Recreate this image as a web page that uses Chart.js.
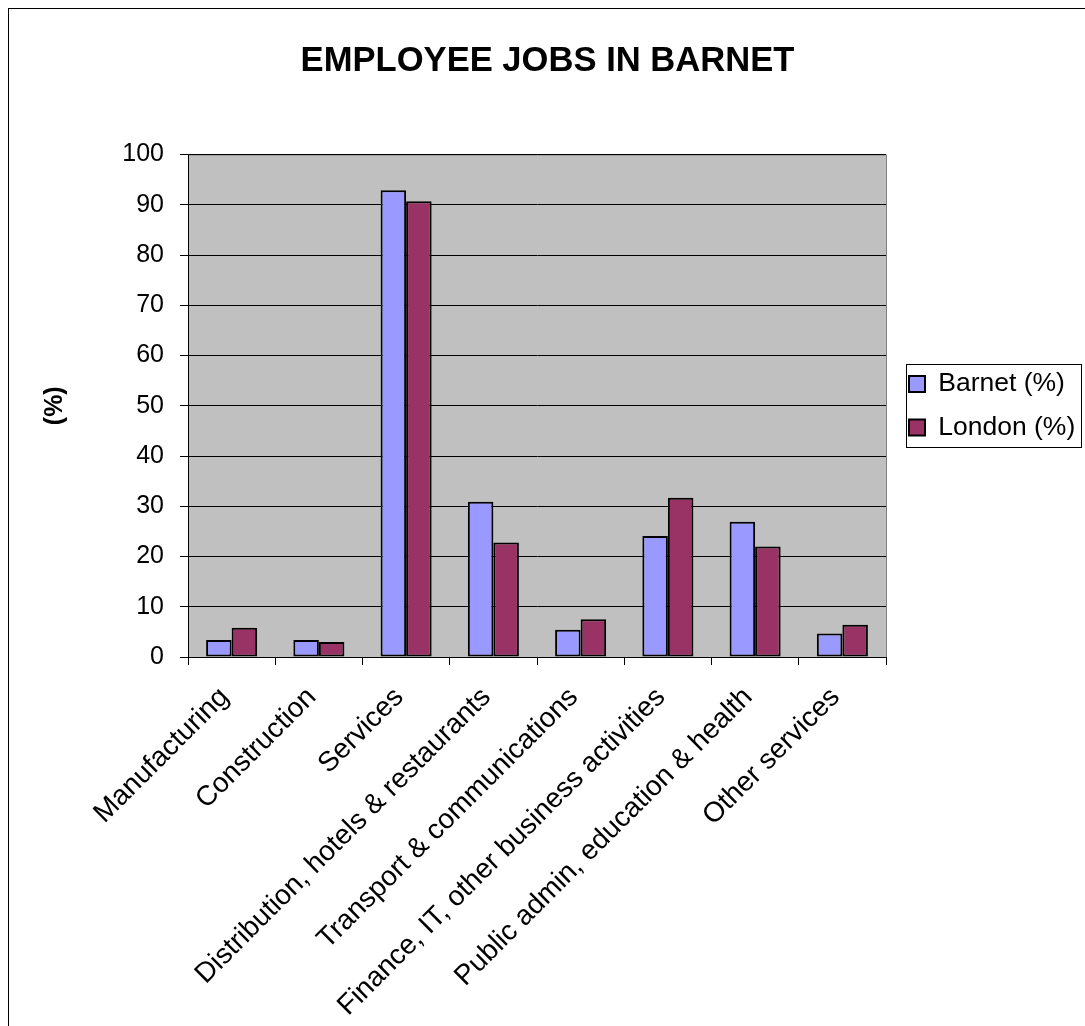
<!DOCTYPE html>
<html>
<head>
<meta charset="utf-8">
<style>
  html, body { margin: 0; padding: 0; background: #fff; }
  #wrap { width: 1085px; height: 1026px; }
</style>
<script src="https://cdn.jsdelivr.net/npm/chart.js@4.4.1/dist/chart.umd.min.js"></script>
</head>
<body>
<div id="wrap"><canvas id="barChart" width="1085" height="1026"></canvas></div>
<script>
const categories = ['Manufacturing', 'Construction', 'Services', 'Distribution, hotels & restaurants',
  'Transport & communications', 'Finance, IT, other business activities',
  'Public admin, education & health', 'Other services'];
const barnet = [3.4, 3.4, 92.9, 30.9, 5.4, 24.1, 26.9, 4.7];
const london = [5.8, 3.0, 90.7, 22.8, 7.5, 31.7, 22.0, 6.4];
const yTicks = [0, 10, 20, 30, 40, 50, 60, 70, 80, 90, 100];

const FONT = 'Liberation Sans, Arial, sans-serif';

// grey plot area, outer frame and legend frame
const frame = {
  id: 'frame',
  beforeLayout(chart) {
    const lg = chart.legend;
    if (lg && !lg._patched) {
      const fit = lg.fit;
      lg.fit = function () { fit.call(this); this.width = 199; };
      lg._patched = true;
    }
  },
  afterLayout(chart) {
    const lg = chart.legend;
    const a = chart.chartArea;
    lg.left += 6; lg.right += 6;
    lg.top = a.top; lg.bottom = a.bottom;
  },
  beforeDraw(chart) {
    const {ctx, chartArea: a} = chart;
    ctx.save();
    ctx.fillStyle = '#fff';
    ctx.fillRect(0, 0, chart.width, chart.height);
    ctx.strokeStyle = '#000';
    ctx.lineWidth = 1;
    ctx.strokeRect(8.5, 8.5, 1200, 1200);
    ctx.fillStyle = '#C0C0C0';
    ctx.fillRect(a.left, a.top, a.right - a.left, a.bottom - a.top);
    ctx.strokeStyle = '#808080';
    ctx.strokeRect(a.left + 0.5, a.top + 0.5, a.right - a.left, a.bottom - a.top);
    ctx.restore();
  },
  afterDraw(chart) {
    const {ctx} = chart;
    ctx.save();
    ctx.strokeStyle = '#000';
    ctx.lineWidth = 1;
    ctx.strokeRect(906.5, 364.5, 175, 83);
    ctx.restore();
  }
};

const ctx = document.getElementById('barChart').getContext('2d');
new Chart(ctx, {
  type: 'bar',
  data: {
    labels: categories,
    datasets: [{
      label: 'Barnet (%)',
      data: barnet,
      backgroundColor: '#9999FF',
      borderColor: '#000',
      borderWidth: 2,
      borderSkipped: false
    }, {
      label: 'London (%)',
      data: london,
      backgroundColor: '#993366',
      borderColor: '#000',
      borderWidth: 2,
      borderSkipped: false
    }]
  },
  options: {
    responsive: false,
    animation: false,
    devicePixelRatio: 1,
    datasets: { bar: { categoryPercentage: 0.585, barPercentage: 1 } },
    layout: { padding: { left: 10, right: 0, top: 10, bottom: 0 } },
    plugins: {
      title: {
        display: true,
        text: 'EMPLOYEE JOBS IN BARNET',
        color: '#000',
        font: { family: FONT, size: 34.6, weight: 'bold' },
        padding: { top: 31, bottom: 72 }
      },
      legend: {
        position: 'right',
        labels: {
          color: '#000',
          font: { family: FONT, size: 26.5 },
          boxWidth: 16,
          boxHeight: 16,
          padding: 17
        }
      },
      tooltip: { enabled: false }
    },
    scales: {
      x: {
        afterFit(s) { s.height = 369; },
        grid: { drawOnChartArea: false, drawTicks: true, tickLength: 8, color: '#000', offset: true },
        border: { color: '#000', width: 1 },
        ticks: {
          color: '#000',
          font: { family: FONT, size: 28 },
          minRotation: 45,
          maxRotation: 45,
          autoSkip: false,
          padding: 16,
          labelOffset: -7
        }
      },
      y: {
        min: 0,
        max: 100,
        afterFit(s) { s.width = 178; },
        afterBuildTicks(s) { s.ticks = yTicks.map(v => ({ value: v })); },
        grid: { color: '#000', tickLength: 8 },
        border: { color: '#000', width: 1 },
        ticks: {
          color: '#000',
          font: { family: FONT, size: 25 },
          padding: 16
        },
        title: {
          display: true,
          text: '(%)',
          color: '#000',
          font: { family: FONT, size: 25, weight: 'bold' },
          padding: { top: 30, bottom: 0 }
        }
      }
    }
  },
  plugins: [frame]
});
</script>
</body>
</html>
